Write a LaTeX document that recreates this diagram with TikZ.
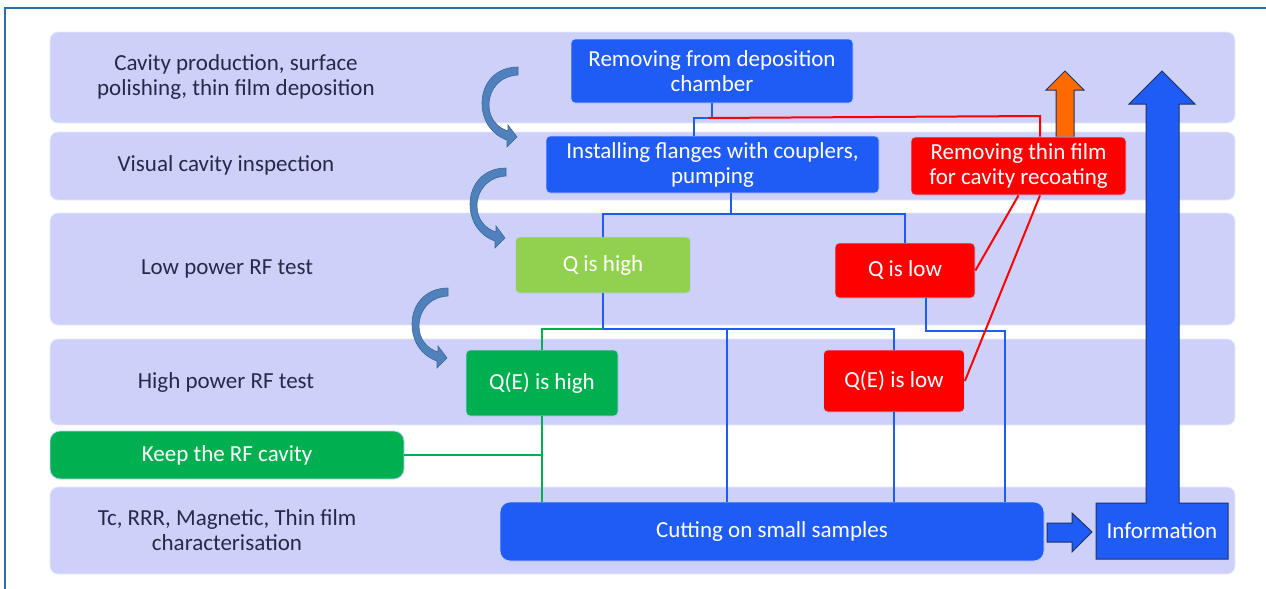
\documentclass[tikz,border=0pt]{standalone}
\usepackage{fontspec}
\setmainfont{Carlito}
\definecolor{bandcol}{RGB}{205,209,250}
\definecolor{boxblue}{RGB}{31,91,245}
\definecolor{lightgreen}{RGB}{146,208,80}
\definecolor{darkgreen}{RGB}{0,176,80}
\definecolor{curvecol}{RGB}{79,129,189}
\definecolor{navy}{RGB}{31,50,99}
\definecolor{frameblue}{RGB}{46,107,176}
\definecolor{labtext}{RGB}{40,40,72}
\definecolor{orangearrow}{RGB}{255,106,0}

\begin{document}
\begin{tikzpicture}[x=0.5pt,y=-0.5pt,
    band/.style={fill=bandcol,draw=white!55!bandcol,rounded corners=4pt},
    lab/.style={text=labtext,align=center,font=\fontsize{11.5}{12.5}\selectfont},
    blk/.style={draw=white!70!boxblue,line width=0.4pt,rounded corners=2pt,text=white,
                align=center,inner sep=0pt,font=\fontsize{11.5}{12.5}\selectfont},
    bline/.style={boxblue,line width=1pt},
    gline/.style={darkgreen,line width=1pt},
    rline/.style={red,line width=1pt},
    curved/.style={fill=curvecol,draw=curvecol!80!black,line width=0.3pt},
    blockarrow/.style={draw=navy,line width=0.5pt,line join=miter}]
  \useasboundingbox (0,0) rectangle (1266,589);
  \draw[frameblue,line width=1pt] (5,589) -- (5,8) -- (1266,8);
  % the five stages
  \foreach \t/\b in {32/123,132/200,213/325,339/425,487/574}
    \draw[band] (50,\t) rectangle (1235,\b);
  \node[lab] (stage1) at (236,77) {Cavity production, surface\\polishing, thin film deposition};
  \node[lab] (stage2) at (226,165) {Visual cavity inspection};
  \node[lab] (stage3) at (227,269) {Low power RF test};
  \node[lab] (stage4) at (226,382) {High power RF test};
  \node[lab] (stage5) at (227,530) {Tc, RRR, Magnetic, Thin film\\characterisation};
  % curved arrows between stages
  \foreach \x/\y in {518/67,506/168,448/288}{%
    \draw[curved,shift={(\x,\y)}] (0,0) -- (0,8)
      .. controls (-18,9) and (-29,22) .. (-29,38)
      .. controls (-29,52) and (-20,61) .. (-10,64)
      -- (-10,58) -- (-1,70) -- (-11,80) -- (-11,73)
      .. controls (-26,68) and (-36,54) .. (-36,36)
      .. controls (-36,16) and (-22,0) .. (0,0) -- cycle;
  }
  % big arrow with the information box
  \draw[blockarrow,fill=boxblue] (1096,503) -- (1146,503) -- (1146,104) -- (1129,104)
     -- (1162,71) -- (1195,104) -- (1179,104) -- (1179,503) -- (1228,503)
     -- (1228,559) -- (1096,559) -- cycle;
  \draw[blockarrow,fill=orangearrow] (1056,137) -- (1056,90) -- (1046,90) -- (1065,71)
     -- (1084,90) -- (1074,90) -- (1074,137) -- cycle;
  % boxes
  \node[blk,fill=boxblue,minimum width=141pt,minimum height=32pt] (remove) at (712,71)
     {Removing from deposition\\chamber};
  \node[blk,fill=boxblue,minimum width=166.5pt,minimum height=28.5pt] (install) at (712.5,164.5)
     {Installing flanges with couplers,\\pumping};
  \node[blk,fill=red,minimum width=107.5pt,minimum height=29pt] (strip) at (1018.5,166)
     {Removing thin film\\for cavity recoating};
  \node[blk,fill=lightgreen,minimum width=87.5pt,minimum height=28pt] (qhigh) at (603,265) {Q is high};
  \node[blk,fill=red,minimum width=70pt,minimum height=27.5pt] (qlow) at (905,270.5) {Q is low};
  \node[blk,fill=darkgreen,minimum width=76pt,minimum height=33pt] (qehigh) at (542,383) {Q(E) is high};
  \node[blk,fill=red,minimum width=70.5pt,minimum height=31pt] (qelow) at (894,381) {Q(E) is low};
  \node[blk,fill=darkgreen,rounded corners=5pt,minimum width=177pt,minimum height=24pt] (keep) at (227,455)
     {Keep the RF cavity};
  \node[blk,fill=boxblue,rounded corners=5pt,minimum width=272pt,minimum height=29.5pt] (cut) at (772,531.5)
     {Cutting on small samples};
  \node[blk,draw=none,minimum width=66pt,minimum height=28pt] (info) at (1162,531) {Information};
  \draw[blockarrow,fill=boxblue] (1047,523) -- (1072,523) -- (1072,513) -- (1092,532)
     -- (1072,552) -- (1072,542) -- (1047,542) -- cycle;
  % connectors
  \coordinate (j1) at (694,118);
  \draw[bline] (remove.south) -- (remove.south |- j1) -- (j1) -- (install.north -| j1);
  \coordinate (r1) at (1040,116);
  \coordinate (r2) at (708,118);
  \draw[rline] (strip.north -| r1) -- (r1) -- (r2);
  \coordinate (j2) at (731,214);
  \draw[bline] (install.south -| j2) -- (j2);
  \draw[bline] (qhigh.north) |- (j2) -| (qlow.north);
  \coordinate (j3) at (603,329);
  \draw[bline] (qhigh.south) -- (j3) -| (qelow.north);
  \draw[gline] (j3) -| (qehigh.north);
  \coordinate (j4) at (727,329);
  \draw[bline] (j4) -- (j4 |- cut.north);
  \coordinate (j5) at (926,331);
  \coordinate (j6) at (1005,331);
  \draw[bline] (qlow.south -| j5) -- (j5) -- (j6) -- (j6 |- cut.north);
  \draw[bline] (qelow.south) -- (qelow.south |- cut.north);
  \draw[gline] (qehigh.south) -- (qehigh.south |- cut.north);
  \draw[gline] (keep.east) -- (keep.east -| qehigh.south);
  \draw[rline] (strip.south) -- (qlow.east);
  \draw[rline] ([xshift=10.75pt]strip.south) -- (qelow.east);
\end{tikzpicture}
\end{document}
